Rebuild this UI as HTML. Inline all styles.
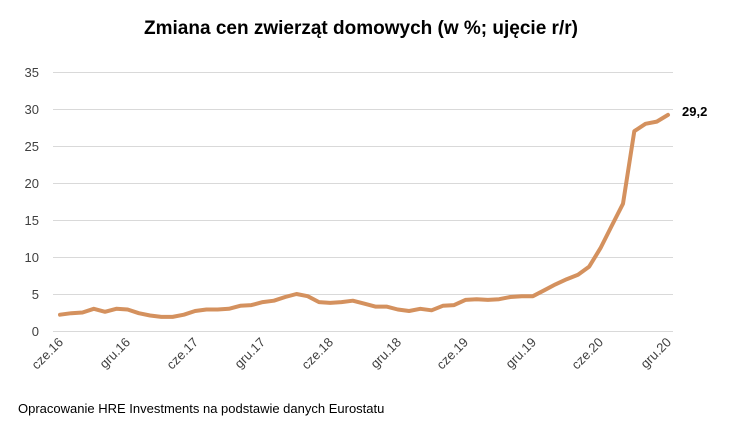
<!DOCTYPE html>
<html><head><meta charset="utf-8"><style>
body{margin:0;background:#fff;}
svg{display:block;font-family:"Liberation Sans",sans-serif;}
</style></head><body>
<svg width="732" height="428" viewBox="0 0 732 428">
<rect width="732" height="428" fill="#fff"/>
<text x="361" y="34" text-anchor="middle" font-size="19" font-weight="bold" fill="#000">Zmiana cen zwierząt domowych (w %; ujęcie r/r)</text>
<g stroke="#d9d9d9" stroke-width="1">
<line x1="53" x2="673" y1="72.5" y2="72.5"/>
<line x1="53" x2="673" y1="109.5" y2="109.5"/>
<line x1="53" x2="673" y1="146.5" y2="146.5"/>
<line x1="53" x2="673" y1="183.5" y2="183.5"/>
<line x1="53" x2="673" y1="220.5" y2="220.5"/>
<line x1="53" x2="673" y1="257.5" y2="257.5"/>
<line x1="53" x2="673" y1="294.5" y2="294.5"/>
<line x1="53" x2="673" y1="331.5" y2="331.5"/>
</g>
<g font-size="13" fill="#404040" text-anchor="end">
<text x="39" y="77">35</text><text x="39" y="114">30</text><text x="39" y="151">25</text>
<text x="39" y="188">20</text><text x="39" y="225">15</text><text x="39" y="262">10</text>
<text x="39" y="299">5</text><text x="39" y="336">0</text>
</g>
<g font-size="13" fill="#404040" text-anchor="end">
<text transform="translate(64,343) rotate(-45)">cze.16</text>
<text transform="translate(131,343) rotate(-45)">gru.16</text>
<text transform="translate(199,343) rotate(-45)">cze.17</text>
<text transform="translate(266,343) rotate(-45)">gru.17</text>
<text transform="translate(334,343) rotate(-45)">cze.18</text>
<text transform="translate(402,343) rotate(-45)">gru.18</text>
<text transform="translate(469,343) rotate(-45)">cze.19</text>
<text transform="translate(537,343) rotate(-45)">gru.19</text>
<text transform="translate(604,343) rotate(-45)">cze.20</text>
<text transform="translate(672,343) rotate(-45)">gru.20</text>
</g>
<polyline fill="none" stroke="#d4915e" stroke-width="4" stroke-linejoin="round" stroke-linecap="round" points="60.0,314.7 71.3,313.2 82.5,312.5 93.8,308.8 105.0,311.8 116.3,308.8 127.6,309.5 138.8,313.2 150.1,315.5 161.3,316.9 172.6,316.9 183.9,314.7 195.1,311.0 206.4,309.5 217.6,309.5 228.9,308.8 240.2,305.8 251.4,305.1 262.7,302.1 273.9,300.7 285.2,297.0 296.5,294.0 307.7,296.2 319.0,302.1 330.2,302.9 341.5,302.1 352.8,300.7 364.0,303.6 375.3,306.6 386.5,306.6 397.8,309.5 409.1,311.0 420.3,308.8 431.6,310.3 442.8,305.8 454.1,305.1 465.4,299.9 476.6,299.2 487.9,299.9 499.1,299.2 510.4,297.0 521.7,296.2 532.9,296.2 544.2,290.3 555.4,284.4 566.7,279.2 578.0,274.8 589.2,266.6 600.5,248.1 611.7,225.9 623.0,203.7 634.3,131.2 645.5,123.8 656.8,121.6 668.0,114.9"/>
<text x="682" y="116" font-size="13" font-weight="bold" fill="#000">29,2</text>
<text x="18" y="413" font-size="13" fill="#000">Opracowanie HRE Investments na podstawie danych Eurostatu</text>
</svg>
</body></html>
